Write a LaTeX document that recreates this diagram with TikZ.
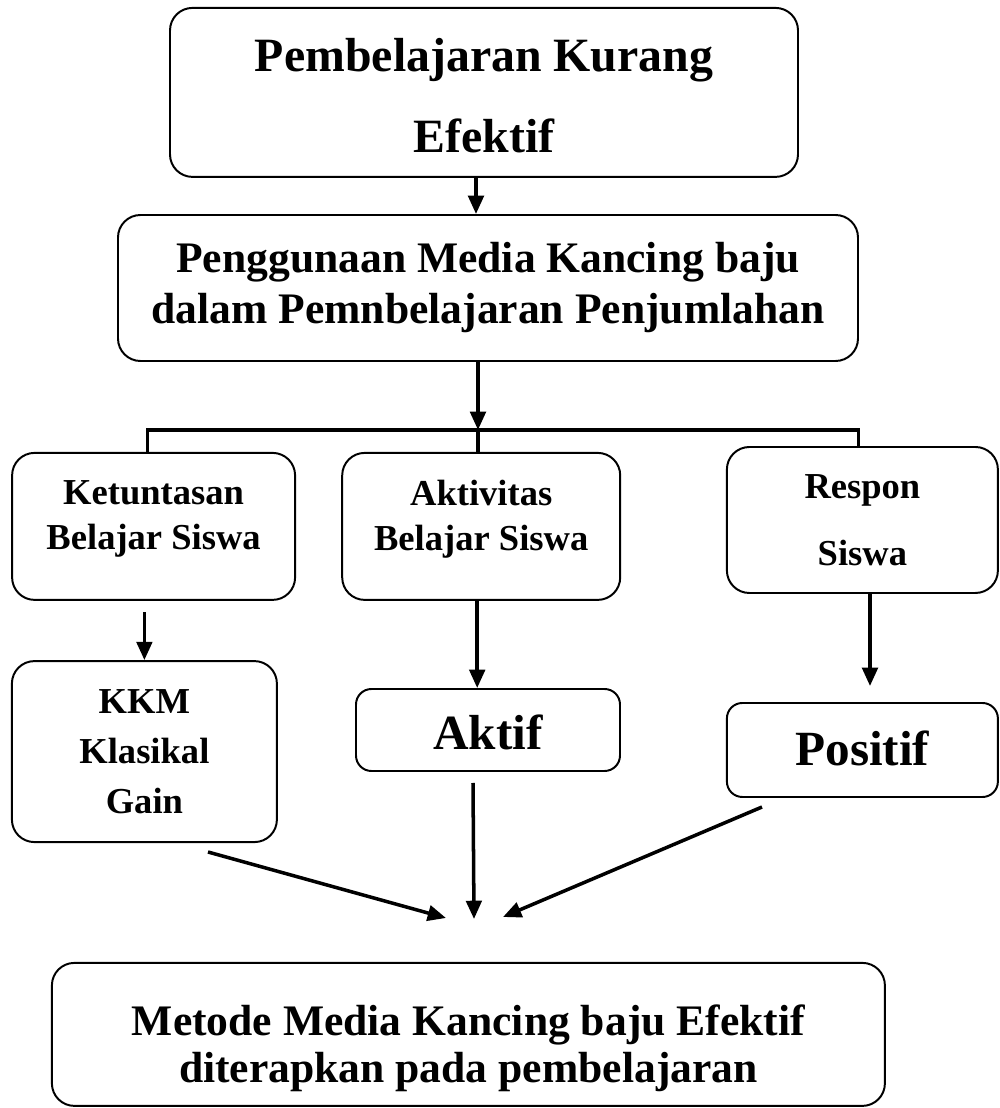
\documentclass[tikz,border=0pt]{standalone}
\usepackage{fontspec}
\setmainfont{Liberation Serif}
\usetikzlibrary{arrows.meta,calc}

\tikzset{
  kotak/.style={draw, line width=1.4pt, rounded corners=16pt, inner sep=0pt},
  teks/.style={align=center, inner sep=0pt},
  panah/.style={line width=2.5pt, -{Triangle[length=13pt,width=11pt]}},
  garis/.style={line width=2.2pt}
}

\begin{document}
\begin{tikzpicture}
  \useasboundingbox (0,0) rectangle (25,27.7);

  % kotak atas
  \node[kotak, minimum width=15.7cm, minimum height=4.225cm] (masalah) at (12.1,25.39) {};
  \node[teks, font=\bfseries\fontsize{34}{57.6}\selectfont] (t-masalah) at ([yshift=-0.07cm]masalah.center) {Pembelajaran Kurang\\Efektif};

  \node[kotak, minimum width=18.5cm, minimum height=3.65cm] (media) at (12.2,20.5) {};
  \node[teks, font=\bfseries\fontsize{31}{36.3}\selectfont] (t-media) at (media.center) {Penggunaan Media Kancing baju\\dalam Pemnbelajaran Penjumlahan};

  % tiga cabang
  \node[kotak, minimum width=7.075cm, minimum height=3.675cm] (tuntas) at (3.84,14.54) {};
  \node[teks, font=\bfseries\fontsize{26}{32}\selectfont] (t-tuntas) at ([yshift=0.19cm]tuntas.center) {Ketuntasan\\Belajar Siswa};

  \node[kotak, minimum width=6.95cm, minimum height=3.675cm] (aktivitas) at (12.03,14.54) {};
  \node[teks, font=\bfseries\fontsize{26}{32}\selectfont] (t-aktivitas) at ([yshift=0.19cm]aktivitas.center) {Aktivitas\\Belajar Siswa};

  \node[kotak, minimum width=6.775cm, minimum height=3.65cm] (respon) at (21.56,14.7) {};
  \node[teks, font=\bfseries\fontsize{26}{47.7}\selectfont] (t-respon) at (respon.center) {Respon\\Siswa};

  % hasil tiap cabang
  \node[kotak, minimum width=6.625cm, minimum height=4.525cm] (kkm) at (3.61,8.91) {};
  \node[teks, font=\bfseries\fontsize{26}{35.6}\selectfont] (t-kkm) at (kkm.center) {KKM\\Klasikal\\Gain};

  \node[kotak, rounded corners=11pt, minimum width=6.6cm, minimum height=2.05cm] (aktif) at (12.2,9.45) {};
  \node[teks, font=\bfseries\fontsize{35}{40}\selectfont] (t-aktif) at ([yshift=-0.05cm]aktif.center) {Aktif};

  \node[kotak, rounded corners=11pt, minimum width=6.775cm, minimum height=2.35cm] (positif) at (21.56,8.95) {};
  \node[teks, font=\bfseries\fontsize{35}{40}\selectfont] (t-positif) at ([yshift=0.05cm]positif.center) {Positif};

  % kesimpulan
  \node[kotak, minimum width=20.825cm, minimum height=3.575cm] (hasil) at (11.71,1.84) {};
  \node[teks, font=\bfseries\fontsize{31}{33.4}\selectfont] (t-hasil) at ([yshift=-0.34cm]hasil.center) {Metode Media Kancing baju Efektif\\diterapkan pada pembelajaran};

  % panah dan garis cabang
  \coordinate (p1) at ([xshift=-0.2cm]masalah.south);
  \draw[panah] (p1) -- (p1 |- media.north);
  \coordinate (cabang) at (11.95,16.95);
  \draw[panah] ([xshift=-0.25cm]media.south) -- (cabang);
  \draw[garis] ([xshift=-0.16cm]tuntas.north) |- (cabang) -| ([xshift=-0.09cm]respon.north);
  \draw[garis] (cabang) -- (cabang |- aktivitas.north);

  \draw[panah] (kkm.north |- tuntas.south) ++(0,-0.28) -- (kkm.north);
  \coordinate (p2) at ([xshift=-0.1cm]aktivitas.south);
  \draw[panah] (p2) -- (p2 |- aktif.north);
  \coordinate (p3) at ([xshift=0.19cm]respon.south);
  \draw[panah] (p3) -- ($(p3 |- positif.north)+(0,0.4)$);

  % tiga panah menuju kesimpulan
  \coordinate (dariKiri) at (5.2,6.4);
  \coordinate (dariTengah) at (11.825,8.125);
  \coordinate (dariKanan) at (19.05,7.525);
  \coordinate (keKiri) at (11.15,4.75);
  \coordinate (keTengah) at (11.85,4.725);
  \coordinate (keKanan) at (12.575,4.775);
  \draw[panah] (dariKiri) -- (keKiri);
  \draw[panah] (dariTengah) -- (keTengah);
  \draw[panah] (dariKanan) -- (keKanan);
\end{tikzpicture}
\end{document}
